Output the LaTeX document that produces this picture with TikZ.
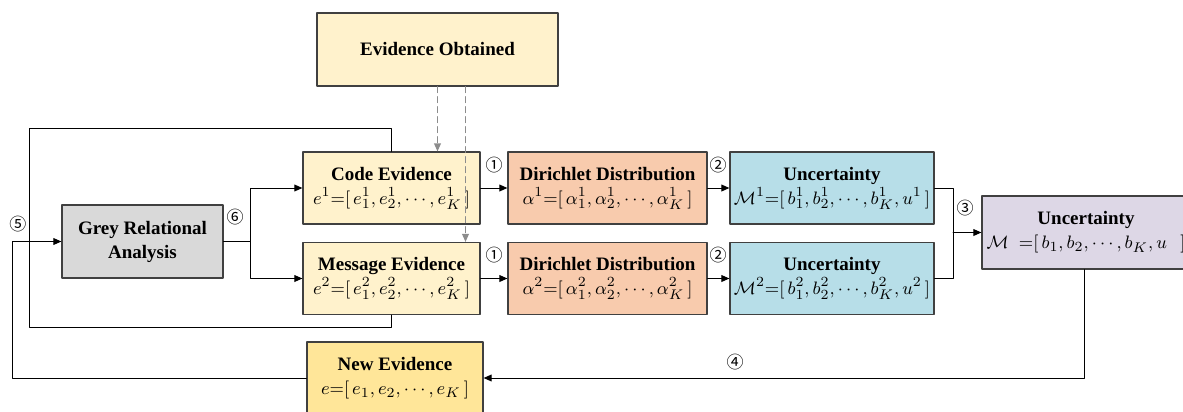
\documentclass[tikz,border=0pt]{standalone}
\usepackage{fontspec}
\setmainfont{Liberation Serif}
\newfontfamily\circfont{Noto Sans CJK JP}
\usetikzlibrary{arrows.meta}
\definecolor{evdfill}{HTML}{FFF2CC}
\definecolor{newfill}{HTML}{FFE699}
\definecolor{dirfill}{HTML}{F8CBAD}
\definecolor{uncfill}{HTML}{B7DEE8}
\definecolor{mrgfill}{HTML}{DDD7E6}
\definecolor{grafill}{HTML}{D9D9D9}
\definecolor{boxline}{HTML}{404040}
\definecolor{dshgrey}{HTML}{8C8C8C}
\newcommand{\cnum}[1]{{\circfont\fontsize{8.5}{9}\selectfont #1}}

\begin{document}
\begin{tikzpicture}[line cap=round,line join=round,x=0.5pt,y=-0.5pt,
	font=\fontsize{9.5}{12}\selectfont,
	blk/.style={draw=boxline,line width=0.6pt,align=center,inner sep=0pt,minimum height=36pt},
	arr/.style={line width=0.5pt,-{Triangle[length=4pt,width=3.4pt]}},
	lnk/.style={line width=0.5pt},
	dsh/.style={line width=0.6pt,color=dshgrey,dash pattern=on 3pt off 2pt,-{Triangle[length=4pt,width=3.4pt]}}]
	\useasboundingbox (0,0) rectangle (1183,412);

	%% boxes
	\node[blk,fill=evdfill,minimum width=120.5pt,minimum height=36.5pt] (obt) at (437.5,49.5) {\textbf{Evidence Obtained}};
	\node[blk,fill=evdfill,minimum width=88.5pt] (code) at (391.5,188) {\textbf{Code Evidence}\\ $e^{1}{=}[\,e_{1}^{1},e_{2}^{1},\cdots,e_{K}^{1}\,]$};
	\node[blk,fill=evdfill,minimum width=88.5pt] (msg) at (391.5,278.5) {\textbf{Message Evidence}\\ $e^{2}{=}[\,e_{1}^{2},e_{2}^{2},\cdots,e_{K}^{2}\,]$};
	\node[blk,fill=dirfill,minimum width=99.5pt] (dir1) at (607.5,188) {\textbf{Dirichlet Distribution}\\ $\alpha^{1}{=}[\,\alpha_{1}^{1},\alpha_{2}^{1},\cdots,\alpha_{K}^{1}\,]$};
	\node[blk,fill=dirfill,minimum width=99.5pt] (dir2) at (607.5,278.5) {\textbf{Dirichlet Distribution}\\ $\alpha^{2}{=}[\,\alpha_{1}^{2},\alpha_{2}^{2},\cdots,\alpha_{K}^{2}\,]$};
	\node[blk,fill=uncfill,minimum width=102pt] (unc1) at (832,188) {\textbf{Uncertainty}\\ $\mathcal{M}^{1}{=}[\,b_{1}^{1},b_{2}^{1},\cdots,b_{K}^{1},u^{1}\,]$};
	\node[blk,fill=uncfill,minimum width=102pt] (unc2) at (832,278.5) {\textbf{Uncertainty}\\ $\mathcal{M}^{2}{=}[\,b_{1}^{2},b_{2}^{2},\cdots,b_{K}^{2},u^{2}\,]$};
	\node[blk,fill=mrgfill,minimum width=104pt,minimum height=36.5pt] (unc) at (1086,232.5) {\textbf{Uncertainty}\\ $\mathcal{M}\;\;{=}[\,b_{1},b_{2},\cdots,b_{K},u\;\;\,]$};
	\node[blk,fill=grafill,minimum width=80.5pt,minimum height=36.5pt] (gra) at (142.5,241.5) {\textbf{Grey Relational}\\ \textbf{Analysis}};
	\node[blk,fill=newfill,minimum width=88pt] (new) at (395,378) {\textbf{New Evidence}\\ $e{=}[\,e_{1},e_{2},\cdots,e_{K}\,]$};

	\coordinate (lpTL) at (29,128);
	\coordinate (lpBL) at (29,327);
	\coordinate (fbL) at (12,0);
	\coordinate (mrg) at (953,232.5);

	%% connectors
	\draw[lnk] (code.north) |- (lpTL) -- (lpBL) -| (msg.south);
	\draw[arr] (new.west) -| (fbL |- gra.west) -- (gra.west);
	\draw[arr] (gra.east) -- ++(27,0) |- (code.west);
	\draw[arr] (gra.east) -- ++(27,0) |- (msg.west);
	\draw[arr] (code) -- (dir1);
	\draw[arr] (msg) -- (dir2);
	\draw[arr] (dir1) -- (unc1);
	\draw[arr] (dir2) -- (unc2);
	\draw[lnk] (unc1.east) -| (mrg) |- (unc2.east);
	\draw[arr] (mrg) -- (unc.west);
	\draw[arr] (unc.south -| 1084,0) |- (new.east);
	\draw[dsh] (obt.south) -- (obt.south |- code.north);
	\draw[dsh] ([xshift=14pt]obt.south) -- ([xshift=14pt]obt.south |- msg.north);

	%% step numbers
	\node (n1a) at (494,165) {\cnum{①}};
	\node (n1b) at (494,255) {\cnum{①}};
	\node (n2a) at (718,165) {\cnum{②}};
	\node (n2b) at (718,255) {\cnum{②}};
	\node (n3) at (965,208) {\cnum{③}};
	\node (n4) at (735,362) {\cnum{④}};
	\node (n5) at (18,224) {\cnum{⑤}};
	\node (n6) at (235,217) {\cnum{⑥}};
\end{tikzpicture}
\end{document}
